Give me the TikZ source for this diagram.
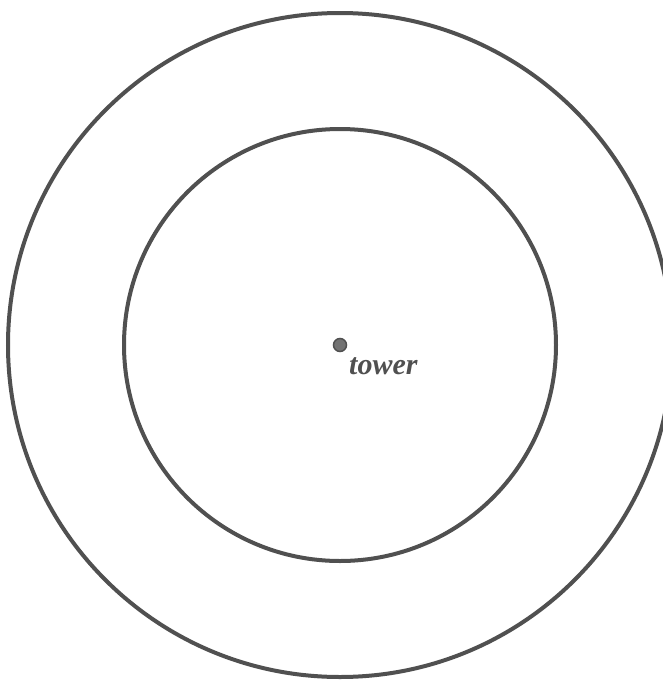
\documentclass[tikz,border=0pt]{standalone}
\usepackage{fontspec}
\setmainfont{Liberation Serif}
\usetikzlibrary{positioning}
\definecolor{ringgray}{RGB}{80, 80, 80}

\tikzset{
  ring/.style={draw=ringgray, line width=4pt},
  towerdot/.style={circle, draw=ringgray, fill=ringgray!80, line width=1.5pt, minimum size=13pt, inner sep=0pt},
  towerlabel/.style={font=\fontsize{30}{34}\selectfont\bfseries\itshape, text=ringgray, inner sep=0pt}
}

\begin{document}
\begin{tikzpicture}[x=1pt, y=-1pt]
  \useasboundingbox (0,0) rectangle (663,681);
  \clip (0,0) rectangle (663,681);
  \node[towerdot] (tower) at (340,345) {};
  \node[towerlabel, anchor=base west] (towertext) at (349,374) {tower};
  % coverage rings around the tower
  \draw[ring] (tower.center) circle[radius=216pt];
  \draw[ring] (tower.center) circle[radius=332pt];
\end{tikzpicture}
\end{document}
